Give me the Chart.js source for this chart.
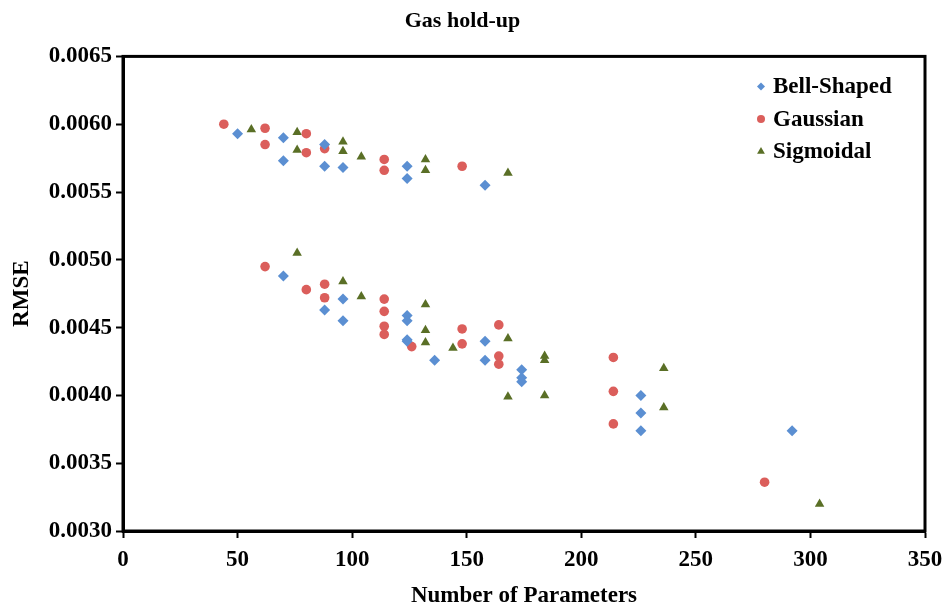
<!DOCTYPE html>
<html>
<head>
<meta charset="utf-8">
<title>Gas hold-up</title>
<script src="https://cdn.jsdelivr.net/npm/chart.js@4.4.1/dist/chart.umd.min.js"></script>
<style>
  html, body { margin: 0; padding: 0; background: #fff; }
  canvas { display: block; }
</style>
</head>
<body>
<canvas id="rmseChart" width="947" height="609"></canvas>
<script>
// RMSE against network size for the three membership functions
var seriesNames = ["Bell-Shaped", "Gaussian", "Sigmoidal"];

var bellParams = [50, 70, 70, 88, 88, 96, 124, 124, 158,
  70, 88, 96, 96, 124, 124, 124, 124, 136, 158, 158, 174, 174, 174, 226, 226, 226, 292];
var bellRmse = [0.00593, 0.00590, 0.00573, 0.00585, 0.00569, 0.00568, 0.00569, 0.00560, 0.00555,
  0.00488, 0.00463, 0.00471, 0.00455, 0.00459, 0.00455, 0.00441, 0.00440, 0.00426, 0.00440, 0.00426,
  0.00419, 0.00413, 0.00410, 0.00400, 0.00387, 0.00374, 0.00374];

var gaussParams = [44, 62, 62, 80, 80, 88, 114, 114, 148,
  62, 80, 88, 88, 114, 114, 114, 114, 126, 148, 148, 164, 164, 164, 214, 214, 214, 280];
var gaussRmse = [0.00600, 0.00597, 0.00585, 0.00593, 0.00579, 0.00582, 0.00574, 0.00566, 0.00569,
  0.00495, 0.00478, 0.00482, 0.00472, 0.00471, 0.00462, 0.00451, 0.00445, 0.00436, 0.00449, 0.00438,
  0.00452, 0.00429, 0.00423, 0.00428, 0.00403, 0.00379, 0.00336];

var sigParams = [56, 76, 76, 96, 96, 104, 132, 132, 168,
  76, 96, 104, 132, 132, 132, 144, 168, 168, 184, 184, 184, 236, 236, 304];
var sigRmse = [0.00596, 0.00594, 0.00581, 0.00587, 0.00580, 0.00576, 0.00574, 0.00566, 0.00564,
  0.00505, 0.00484, 0.00473, 0.00467, 0.00448, 0.00439, 0.00435, 0.00442, 0.00399, 0.00429, 0.00426,
  0.00400, 0.00420, 0.00391, 0.00320];

var xTicks = [0, 50, 100, 150, 200, 250, 300, 350];
var yTicks = [0.0030, 0.0035, 0.0040, 0.0045, 0.0050, 0.0055, 0.0060, 0.0065];

var serif = "'Liberation Serif', 'Times New Roman', serif";

function toPoints(xs, ys) {
  return xs.map(function (x, i) { return { x: x, y: ys[i] }; });
}

// frame round the plot area plus the legend in its top right corner
var frameAndLegend = {
  id: "frameAndLegend",
  afterDraw: function (chart) {
    var ctx = chart.ctx;
    var area = chart.chartArea;
    ctx.save();
    ctx.strokeStyle = "#000";
    ctx.lineWidth = 3;
    ctx.strokeRect(area.left, area.top, area.right - area.left, area.bottom - area.top);

    ctx.font = "bold 23px " + serif;
    ctx.textBaseline = "middle";
    chart.data.datasets.forEach(function (ds, i) {
      var x = area.right - 164;
      var y = area.top + 30 + i * 32.5;
      ctx.fillStyle = ds.backgroundColor;
      ctx.strokeStyle = ds.backgroundColor;
      Chart.helpers.drawPoint(ctx, {
        pointStyle: ds.pointStyle,
        radius: ds.pointStyle === "triangle" ? 4.5 : 4,
        rotation: 0,
        borderWidth: 0
      }, x, y);
      ctx.fillStyle = "#000";
      ctx.fillText(ds.label, x + 12, y + 1);
    });
    ctx.restore();
  }
};

var ctx = document.getElementById("rmseChart").getContext("2d");

var rmseChart = new Chart(ctx, {
  type: "scatter",
  data: {
    datasets: [
      {
        label: seriesNames[0],
        data: toPoints(bellParams, bellRmse),
        pointStyle: "rectRot",
        pointRadius: 5.5,
        backgroundColor: "#5B8FD2",
        borderColor: "#5B8FD2",
        borderWidth: 0
      },
      {
        label: seriesNames[1],
        data: toPoints(gaussParams, gaussRmse),
        pointStyle: "circle",
        pointRadius: 4.8,
        backgroundColor: "#DB5E5B",
        borderColor: "#DB5E5B",
        borderWidth: 0
      },
      {
        label: seriesNames[2],
        data: toPoints(sigParams, sigRmse),
        pointStyle: "triangle",
        pointRadius: 5.5,
        backgroundColor: "#5A6F26",
        borderColor: "#5A6F26",
        borderWidth: 0
      }
    ]
  },
  options: {
    responsive: false,
    animation: false,
    layout: {
      padding: { left: 0, right: 22, top: 0, bottom: 0 }
    },
    plugins: {
      legend: { display: false },
      tooltip: { enabled: false },
      title: {
        display: true,
        text: "Gas hold-up",
        color: "#000",
        font: { family: serif, size: 22, weight: "bold", lineHeight: 1.2 },
        padding: { top: 8, bottom: 22 }
      }
    },
    scales: {
      x: {
        type: "linear",
        min: 0,
        max: 350,
        afterBuildTicks: function (scale) {
          scale.ticks = xTicks.map(function (v) { return { value: v }; });
        },
        afterFit: function (scale) {
          scale.height = 78;
          scale.paddingLeft = 0;
          scale.paddingRight = 0;
        },
        border: { display: true, color: "#000", width: 3 },
        grid: {
          drawOnChartArea: false,
          drawTicks: true,
          tickLength: 7,
          tickWidth: 2,
          tickColor: "#000"
        },
        ticks: {
          color: "#000",
          padding: 8,
          maxRotation: 0,
          font: { family: serif, size: 23, weight: "bold" }
        },
        title: {
          display: true,
          text: "Number of Parameters",
          color: "#000",
          font: { family: serif, size: 23, weight: "bold", lineHeight: 1 },
          padding: { top: 0, bottom: 1 }
        }
      },
      y: {
        type: "linear",
        min: 0.003,
        max: 0.0065,
        afterBuildTicks: function (scale) {
          scale.ticks = yTicks.map(function (v) { return { value: v }; });
        },
        afterFit: function (scale) {
          scale.width = 123;
          scale.paddingTop = 0;
          scale.paddingBottom = 0;
        },
        border: { display: true, color: "#000", width: 3 },
        grid: {
          drawOnChartArea: false,
          drawTicks: true,
          tickLength: 7,
          tickWidth: 2,
          tickColor: "#000"
        },
        ticks: {
          color: "#000",
          padding: 4,
          font: { family: serif, size: 23, weight: "bold" },
          callback: function (value) { return value.toFixed(4); }
        },
        title: {
          display: true,
          text: "RMSE",
          color: "#000",
          font: { family: serif, size: 23, weight: "bold", lineHeight: 1.2 },
          padding: { top: 8, bottom: 0 }
        }
      }
    }
  },
  plugins: [frameAndLegend]
});
</script>
</body>
</html>
